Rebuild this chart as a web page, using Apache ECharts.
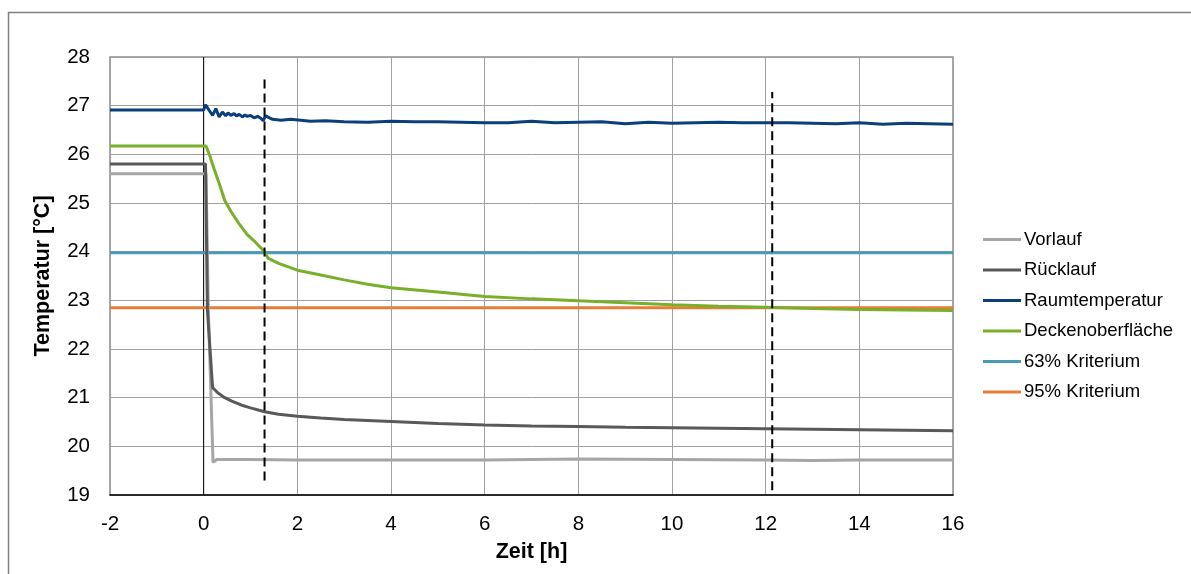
<!DOCTYPE html>
<html>
<head>
<meta charset="utf-8">
<script src="https://cdn.jsdelivr.net/npm/echarts@6/dist/echarts.min.js"></script>
<style>html,body{margin:0;padding:0;background:#fff}#c{width:1191px;height:574px}</style>
</head>
<body>
<div id="c"></div>
<script>
// X tick range and Y tick range
const xTicks = [-2, 0, 2, 4, 6, 8, 10, 12, 14, 16];
const yTicks = [19, 20, 21, 22, 23, 24, 25, 26, 27, 28];

const vorlaufT = [-2, 0.05, 0.1, 0.2, 0.28, 0.5, 1, 2, 3, 4, 6, 7, 8, 10, 12, 13, 14, 16];
const vorlaufV = [25.6, 25.6, 22.8, 19.67, 19.73, 19.73, 19.73, 19.72, 19.72, 19.72, 19.72, 19.73, 19.74, 19.73, 19.72, 19.71, 19.72, 19.72];

const ruecklaufT = [-2, 0.04, 0.08, 0.19, 0.3, 0.45, 0.6, 0.8, 1.0, 1.3, 1.6, 2, 2.5, 3, 4, 5, 6, 7, 8, 9, 10, 11, 12, 13, 14, 15, 16];
const ruecklaufV = [25.8, 25.8, 22.8, 21.21, 21.1, 21.0, 20.93, 20.85, 20.79, 20.71, 20.66, 20.62, 20.58, 20.55, 20.51, 20.47, 20.44, 20.42, 20.41, 20.39, 20.38, 20.37, 20.36, 20.35, 20.34, 20.33, 20.32];

const raumT = [-2, 0, 0.04, 0.12, 0.19, 0.26, 0.33, 0.4, 0.47, 0.52, 0.58, 0.65, 0.7, 0.76, 0.83, 0.88, 0.93, 1.0, 1.08, 1.15, 1.22, 1.27, 1.32, 1.36, 1.47, 1.65, 1.86, 2.07, 2.28, 2.6, 3, 3.5, 4, 4.5, 5, 5.5, 6, 6.5, 7, 7.5, 8, 8.5, 9, 9.5, 10, 10.5, 11, 11.5, 12, 12.5, 13, 13.5, 14, 14.5, 15, 15.5, 16];
const raumV = [26.91, 26.91, 27.02, 26.9, 26.8, 26.94, 26.77, 26.87, 26.79, 26.85, 26.8, 26.84, 26.79, 26.82, 26.77, 26.81, 26.78, 26.8, 26.75, 26.78, 26.74, 26.69, 26.79, 26.76, 26.72, 26.7, 26.72, 26.7, 26.68, 26.69, 26.67, 26.66, 26.68, 26.67, 26.67, 26.66, 26.65, 26.65, 26.68, 26.65, 26.66, 26.67, 26.63, 26.66, 26.64, 26.65, 26.66, 26.65, 26.65, 26.65, 26.64, 26.63, 26.65, 26.62, 26.64, 26.63, 26.62];

const deckeT = [-2, 0.05, 0.12, 0.22, 0.35, 0.45, 0.58, 0.75, 0.93, 1.1, 1.29, 1.38, 1.6, 2, 2.5, 3, 3.5, 4, 5, 6, 7, 8, 9, 10, 11, 12, 13, 14, 15, 16];
const deckeV = [26.17, 26.17, 26.0, 25.71, 25.35, 25.05, 24.83, 24.58, 24.35, 24.2, 24.01, 23.86, 23.76, 23.62, 23.52, 23.42, 23.33, 23.26, 23.17, 23.08, 23.03, 22.99, 22.95, 22.91, 22.88, 22.86, 22.83, 22.81, 22.8, 22.79];

const krit63 = 23.98;
const krit95 = 22.85;

const dash1T = 1.3, dash1Y = [19.3, 27.55];
const dash2T = 12.14, dash2Y = [19.1, 27.28];

const names = ['Vorlauf', 'Rücklauf', 'Raumtemperatur', 'Deckenoberfläche', '63% Kriterium', '95% Kriterium'];
const colors = ['#a6a6a6', '#595959', '#0b3f7c', '#78b02b', '#4a9bb5', '#e97c36'];

const zip = (t, v) => t.map((x, i) => [x, v[i]]);
const xMin = xTicks[0], xMax = xTicks[xTicks.length - 1];

function lineSeries(name, data, color, w) {
  return { name, type: 'line', data, showSymbol: false, symbol: 'none', smooth: false,
    lineStyle: { color, width: w || 3 }, itemStyle: { color }, z: 3, animation: false };
}

const series = [
  lineSeries(names[4], [[xMin, krit63], [xMax, krit63]], colors[4]),
  lineSeries(names[5], [[xMin, krit95], [xMax, krit95]], colors[5]),
  lineSeries(names[0], zip(vorlaufT, vorlaufV), colors[0]),
  lineSeries(names[1], zip(ruecklaufT, ruecklaufV), colors[1]),
  lineSeries(names[2], zip(raumT, raumV), colors[2]),
  lineSeries(names[3], zip(deckeT, deckeV), colors[3]),
  { name: 'zero', type: 'line', data: [[0, yTicks[0]], [0, yTicks[yTicks.length - 1]]], showSymbol: false, symbol: 'none',
    lineStyle: { color: '#000', width: 1 }, z: 2, silent: true, animation: false },
  { name: 'd1', type: 'line', data: [[dash1T, dash1Y[0]], [dash1T, dash1Y[1]]], showSymbol: false, symbol: 'none',
    lineStyle: { color: '#000', width: 2, type: [9, 5] }, z: 4, silent: true, animation: false },
  { name: 'd2', type: 'line', data: [[dash2T, dash2Y[0]], [dash2T, dash2Y[1]]], showSymbol: false, symbol: 'none',
    lineStyle: { color: '#000', width: 2, type: [9, 5] }, z: 4, silent: true, animation: false }
];

const chart = echarts.init(document.getElementById('c'), null, { renderer: 'canvas' });
chart.setOption({
  animation: false,
  backgroundColor: '#fff',
  textStyle: { fontFamily: 'Liberation Sans, Arial, sans-serif' },
  graphic: [{ type: 'rect', shape: { x: 8.5, y: 12.5, width: 1200, height: 600 },
    style: { fill: 'none', stroke: '#7f7f7f', lineWidth: 1.5 }, silent: true }],
  grid: { left: 110, right: 238, top: 57, bottom: 79, show: true, borderColor: '#8c8c8c', borderWidth: 1.5,
    backgroundColor: 'transparent', containLabel: false, outerBoundsMode: 'none' },
  legend: {
    data: names.map((n, i) => ({ name: n, itemStyle: { color: colors[i] } })),
    orient: 'vertical', left: 978, top: 225, itemWidth: 38, itemHeight: 3, icon: 'rect', itemGap: 11.5,
    textStyle: { fontSize: 18.5, color: '#000', padding: [0, 0, 0, -2], lineHeight: 19, fontFamily: 'Liberation Sans, Arial, sans-serif' }
  },
  xAxis: {
    type: 'value', min: xMin, max: xMax, interval: 2,
    name: 'Zeit [h]', nameLocation: 'middle', nameGap: 46,
    nameTextStyle: { fontSize: 21.5, fontWeight: 'bold', color: '#000' },
    axisLine: { show: true, onZero: false, lineStyle: { color: '#000', width: 1.5 } },
    axisTick: { show: false },
    axisLabel: { fontSize: 20.5, color: '#000', margin: 19 },
    splitLine: { show: true, lineStyle: { color: '#a0a0a0', width: 1 } }
  },
  yAxis: {
    type: 'value', min: yTicks[0], max: yTicks[yTicks.length - 1], interval: 1,
    name: 'Temperatur [°C]', nameLocation: 'middle', nameGap: 56,
    nameTextStyle: { fontSize: 21.5, fontWeight: 'bold', color: '#000' },
    axisLine: { show: false },
    axisTick: { show: false },
    axisLabel: { fontSize: 20.5, color: '#000', margin: 20 },
    splitLine: { show: true, lineStyle: { color: '#a0a0a0', width: 1 } }
  },
  series
});
</script>
</body>
</html>
